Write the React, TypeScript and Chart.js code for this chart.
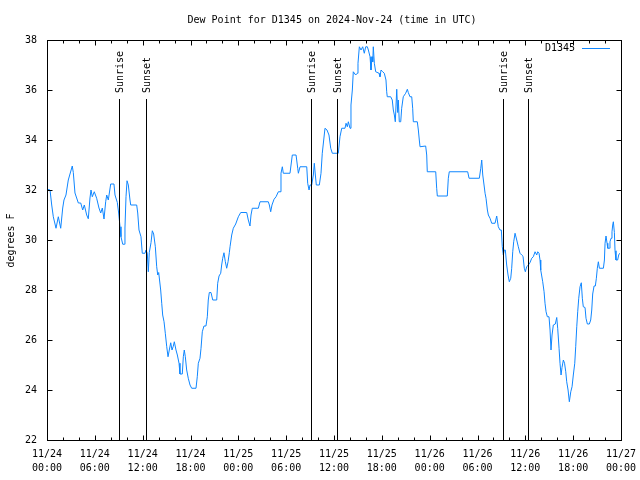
import React, { useEffect, useRef } from 'react';
import { Chart, registerables } from 'chart.js';

Chart.register(...registerables);

const TITLE = 'Dew Point for D1345 on 2024-Nov-24 (time in UTC)';
const SERIES_NAME = 'D1345';
const Y_LABEL = 'degrees F';

// hours since 2024-11-24 00:00 UTC
const hours = [
  0, 0.38, 0.59, 0.79, 1.13, 1.42, 1.72, 1.97, 2.13, 2.38, 2.67, 3.17, 3.3, 3.51, 3.93, 4.23, 4.48, 4.68, 4.98, 5.18,
  5.39, 5.52, 5.68, 5.93, 6.23, 6.52, 6.74, 6.94, 7.15, 7.36, 7.49, 7.69, 7.99, 8.4, 8.53, 8.82, 8.99, 9.16, 9.28, 9.5,
  9.7, 9.78, 9.91, 10.04, 10.2, 10.41, 10.5, 11.25, 11.38, 11.54, 11.79, 11.95, 12.29, 12.42, 12.58, 12.71, 12.83, 13.05, 13.21, 13.38,
  13.59, 13.76, 13.89, 14.01, 14.26, 14.39, 14.51, 14.68, 14.84, 15.02, 15.18, 15.34, 15.52, 15.68, 15.84, 15.97, 16.18, 16.35, 16.56, 16.68,
  16.97, 17.1, 17.22, 17.35, 17.52, 17.72, 17.94, 18.15, 18.69, 18.85, 18.98, 19.19, 19.32, 19.48, 19.69, 19.94, 20.11, 20.23, 20.36, 20.57,
  20.79, 21.29, 21.41, 21.58, 21.79, 21.91, 22.04, 22.2, 22.37, 22.54, 22.71, 22.87, 22.96, 23.17, 23.37, 23.67, 24.0, 24.3, 25.05, 25.25,
  25.46, 25.59, 25.75, 26.51, 26.72, 27.76, 27.89, 28.06, 28.22, 28.48, 28.73, 29.02, 29.23, 29.35, 29.52, 29.64, 30.48, 30.77, 31.24, 31.45,
  31.53, 31.74, 32.58, 32.7, 32.87, 32.99, 33.2, 33.41, 33.53, 33.66, 33.78, 34.16, 34.37, 34.53, 34.71, 34.87, 35.12, 35.37, 35.59, 35.79,
  36.54, 36.75, 36.97, 37.38, 37.51, 37.67, 37.8, 38.01, 38.13, 38.3, 38.42, 38.72, 38.92, 39.01, 39.18, 39.39, 39.6, 39.8, 39.98, 40.18,
  40.31, 40.52, 40.64, 40.77, 40.86, 40.93, 41.06, 41.23, 41.65, 41.77, 41.9, 42.11, 42.31, 42.52, 42.61, 42.68, 43.11, 43.31, 43.44, 43.57,
  43.69, 43.87, 43.99, 44.07, 44.19, 44.37, 44.49, 44.69, 44.99, 45.2, 45.32, 45.53, 45.75, 45.87, 45.95, 46.45, 46.58, 46.7, 46.79, 47.5,
  47.63, 47.7, 48.76, 48.88, 48.96, 50.21, 50.34, 50.46, 52.77, 52.94, 54.23, 54.41, 54.53, 54.66, 54.82, 54.95, 55.07, 55.24, 55.36, 55.57,
  55.78, 56.2, 56.41, 56.61, 56.82, 56.99, 57.11, 57.24, 57.36, 57.49, 57.66, 57.83, 57.99, 58.17, 58.29, 58.42, 58.54, 58.71, 58.92, 59.12,
  59.33, 59.55, 59.71, 59.87, 60.0, 60.17, 60.38, 60.59, 60.8, 61.0, 61.22, 61.43, 61.55, 61.72, 61.84, 61.93, 62.18, 62.35, 62.47, 62.6,
  62.76, 62.97, 63.1, 63.22, 63.35, 63.51, 63.76, 63.94, 64.06, 64.23, 64.35, 64.48, 64.6, 64.77, 64.92, 65.07, 65.19, 65.36, 65.52, 65.7,
  65.86, 66.02, 66.2, 66.32, 66.45, 66.57, 66.7, 66.86, 67.02, 67.15, 67.27, 67.49, 67.61, 67.78, 68.03, 68.2, 68.33, 68.45, 68.62, 68.78,
  68.91, 69.03, 69.16, 69.29, 69.79, 69.92, 70.0, 70.12, 70.25, 70.34, 70.54, 70.62, 70.75, 70.87, 70.96, 71.04, 71.17, 71.25, 71.37, 71.58,
  71.71, 71.83,
];

const dewPoint = [
  32.03, 32.0, 31.4, 30.93, 30.47, 30.93, 30.47, 31.28, 31.6, 31.8, 32.4, 32.96, 32.7, 31.88, 31.48, 31.48, 31.2, 31.4, 31.0, 30.85,
  31.68, 32.0, 31.73, 31.93, 31.67, 31.28, 31.08, 31.28, 30.84, 31.53, 31.8, 31.6, 32.24, 32.24, 31.8, 31.5, 31.08, 30.53, 30.13, 29.83,
  29.83, 30.48, 31.73, 32.37, 32.2, 31.6, 31.4, 31.4, 31.08, 30.4, 30.13, 29.47, 29.47, 29.6, 29.47, 28.73, 29.5, 29.9, 30.37, 30.24,
  29.73, 28.93, 28.6, 28.7, 28.0, 27.47, 27.0, 26.73, 26.27, 25.73, 25.33, 25.6, 25.89, 25.6, 25.75, 25.93, 25.6, 25.4, 25.07, 24.64,
  24.64, 25.33, 25.6, 25.33, 24.8, 24.47, 24.2, 24.07, 24.07, 24.53, 25.07, 25.27, 25.67, 26.33, 26.56, 26.56, 26.93, 27.6, 27.9, 27.9,
  27.6, 27.6, 28.27, 28.56, 28.67, 29.0, 29.27, 29.49, 29.13, 28.87, 29.13, 29.49, 29.73, 30.2, 30.47, 30.64, 30.93, 31.1, 31.1, 30.8,
  30.56, 31.0, 31.27, 31.27, 31.53, 31.53, 31.4, 31.13, 31.4, 31.63, 31.73, 31.93, 31.93, 32.67, 32.93, 32.67, 32.67, 33.4, 33.4, 32.87,
  32.67, 32.93, 32.93, 32.27, 32.0, 32.2, 32.2, 32.6, 33.07, 32.6, 32.2, 32.2, 32.67, 33.47, 34.0, 34.47, 34.4, 34.2, 33.67, 33.47,
  33.47, 34.13, 34.47, 34.47, 34.67, 34.53, 34.73, 34.47, 35.4, 36.0, 36.73, 36.6, 36.67, 37.07, 37.73, 37.6, 37.73, 37.47, 37.73, 37.73,
  37.6, 37.33, 36.8, 37.33, 37.13, 37.73, 37.07, 36.73, 36.67, 36.53, 36.8, 36.73, 36.67, 36.4, 35.93, 35.73, 35.73, 35.6, 35.2, 35.0,
  34.73, 36.03, 35.1, 35.6, 34.73, 34.73, 35.27, 35.73, 35.87, 36.03, 35.9, 35.73, 35.73, 35.27, 34.73, 34.73, 34.4, 34.0, 33.73, 33.76,
  33.4, 32.73, 32.73, 32.07, 31.76, 31.76, 32.47, 32.73, 32.73, 32.47, 32.47, 32.87, 33.2, 32.6, 32.2, 31.87, 31.67, 31.2, 31.0, 30.87,
  30.67, 30.67, 30.96, 30.53, 30.4, 30.4, 29.73, 29.4, 29.6, 29.6, 29.0, 28.6, 28.33, 28.47, 28.87, 29.53, 29.93, 30.27, 30.0, 29.73,
  29.47, 29.4, 29.35, 28.87, 28.73, 28.93, 29.0, 29.1, 29.27, 29.33, 29.53, 29.4, 29.53, 29.47, 29.2, 28.8, 28.33, 27.93, 27.47, 27.13,
  26.93, 26.93, 26.4, 25.6, 26.2, 26.6, 26.64, 26.9, 26.47, 25.67, 25.07, 24.6, 24.9, 25.2, 25.07, 24.73, 24.33, 24.0, 23.53, 23.93,
  24.13, 24.6, 25.07, 25.73, 26.53, 27.13, 27.67, 28.13, 28.29, 27.67, 27.33, 27.3, 26.87, 26.64, 26.64, 26.8, 27.2, 27.84, 28.16, 28.16,
  28.47, 28.87, 29.13, 28.87, 28.87, 29.2, 29.87, 30.16, 29.87, 29.67, 29.67, 29.93, 30.07, 30.33, 30.6, 30.73, 30.3, 29.57, 29.2, 29.2,
  29.4, 29.47,
];

const sunriseHours = [9.07, 33.12, 57.2];
const sunsetHours = [12.42, 36.38, 60.34];

const xTickValues = [0, 6, 12, 18, 24, 30, 36, 42, 48, 54, 60, 66, 72];
const xTickDates = ['11/24', '11/24', '11/24', '11/24', '11/25', '11/25', '11/25', '11/25', '11/26', '11/26', '11/26', '11/26', '11/27'];
const xTickTimes = ['00:00', '06:00', '12:00', '18:00', '00:00', '06:00', '12:00', '18:00', '00:00', '06:00', '12:00', '18:00', '00:00'];
const xMinorStep = 2;
const yTickValues = [22, 24, 26, 28, 30, 32, 34, 36, 38];

const LINE_COLOR = '#0f86ff';
const FONT = '"DejaVu Sans Mono", monospace';

const decorPlugin = {
  id: 'gnuplotDecor',
  afterDraw(chart: any) {
    const { ctx, chartArea } = chart;
    const xs = chart.scales.x;
    const ys = chart.scales.y;
    const L = Math.round(chartArea.left) + 0.5;
    const R = Math.round(chartArea.right) + 0.5;
    const T = Math.round(chartArea.top) + 0.5;
    const B = Math.round(chartArea.bottom) + 0.5;
    ctx.save();
    ctx.strokeStyle = '#000';
    ctx.lineWidth = 1;

    // ticks (inward, mirrored)
    ctx.beginPath();
    for (let h = xs.min; h <= xs.max + 1e-9; h += xMinorStep) {
      const major = xTickValues.includes(h);
      const len = major ? 5 : 3;
      const px = Math.round(xs.getPixelForValue(h)) + 0.5;
      ctx.moveTo(px, B);
      ctx.lineTo(px, B - len);
      ctx.moveTo(px, T);
      ctx.lineTo(px, T + len);
    }
    for (const v of yTickValues) {
      const py = Math.round(ys.getPixelForValue(v)) + 0.5;
      ctx.moveTo(L, py);
      ctx.lineTo(L + 5, py);
      ctx.moveTo(R, py);
      ctx.lineTo(R - 5, py);
    }
    ctx.stroke();

    // sunrise / sunset markers
    const topVal = ys.min + (ys.max - ys.min) * 0.8525;
    const yTopPx = ys.getPixelForValue(topVal);
    const drawSun = (h: number, label: string) => {
      const px = Math.round(xs.getPixelForValue(h)) + 0.5;
      ctx.beginPath();
      ctx.moveTo(px, B);
      ctx.lineTo(px, yTopPx);
      ctx.stroke();
      ctx.save();
      ctx.translate(px + 1, yTopPx - 6);
      ctx.rotate(-Math.PI / 2);
      ctx.fillStyle = '#000';
      ctx.font = '10px ' + FONT;
      ctx.textAlign = 'left';
      ctx.textBaseline = 'middle';
      ctx.fillText(label, 0, 0);
      ctx.restore();
    };
    sunriseHours.forEach((h) => drawSun(h, 'Sunrise'));
    sunsetHours.forEach((h) => drawSun(h, 'Sunset'));

    // frame
    ctx.strokeRect(L, T, R - L, B - T);

    // title
    ctx.fillStyle = '#000';
    ctx.font = '10px ' + FONT;
    ctx.textAlign = 'center';
    ctx.textBaseline = 'middle';
    ctx.fillText(TITLE, 332, 20);

    // y label
    ctx.save();
    ctx.translate(11, (T + B) / 2);
    ctx.rotate(-Math.PI / 2);
    ctx.textAlign = 'center';
    ctx.textBaseline = 'middle';
    ctx.fillText(Y_LABEL, 0, 0);
    ctx.restore();

    // legend
    ctx.textAlign = 'right';
    ctx.textBaseline = 'middle';
    ctx.fillText(SERIES_NAME, 575, 48);
    ctx.strokeStyle = LINE_COLOR;
    ctx.beginPath();
    ctx.moveTo(582, 48.5);
    ctx.lineTo(610, 48.5);
    ctx.stroke();

    ctx.restore();
  },
};

export default function App() {
  const ref = useRef<HTMLCanvasElement | null>(null);
  useEffect(() => {
    if (!ref.current) return;
    const chart = new Chart(ref.current, {
      type: 'line',
      data: {
        datasets: [
          {
            label: SERIES_NAME,
            data: hours.map((h, i) => ({ x: h, y: dewPoint[i] })),
            borderColor: LINE_COLOR,
            borderWidth: 1,
            pointRadius: 0,
            tension: 0,
            fill: false,
          },
        ],
      },
      options: {
        responsive: false,
        animation: false,
        devicePixelRatio: 1,
        layout: { padding: { top: 40, right: 19, left: 0, bottom: 0 } },
        plugins: { legend: { display: false }, title: { display: false }, tooltip: { enabled: false } },
        scales: {
          x: {
            type: 'linear',
            min: 0,
            max: 72,
            grid: { display: false, drawTicks: false },
            border: { display: false },
            afterBuildTicks: (s: any) => {
              s.ticks = xTickValues.map((v) => ({ value: v }));
            },
            afterFit: (s: any) => {
              s.height = 40;
              s.paddingLeft = 0;
              s.paddingRight = 0;
            },
            ticks: {
              autoSkip: false,
              maxRotation: 0,
              padding: 7,
              color: '#000',
              font: { family: FONT, size: 10, lineHeight: 1.4 },
              callback: (v: any) => {
                const i = xTickValues.indexOf(Number(v));
                return i >= 0 ? [xTickDates[i], xTickTimes[i]] : '';
              },
            },
          },
          y: {
            min: 22,
            max: 38,
            grid: { display: false, drawTicks: false },
            border: { display: false },
            afterBuildTicks: (s: any) => {
              s.ticks = yTickValues.map((v) => ({ value: v }));
            },
            afterFit: (s: any) => {
              s.width = 47;
              s.paddingTop = 0;
              s.paddingBottom = 0;
            },
            ticks: {
              padding: 10,
              color: '#000',
              font: { family: FONT, size: 10 },
            },
          },
        },
      },
      plugins: [decorPlugin],
    } as any);
    return () => chart.destroy();
  }, []);
  return (
    <div style={{ position: 'absolute', left: 0, top: 0, width: 640, height: 480, background: '#fff' }}>
      <canvas ref={ref} width={640} height={480} style={{ width: 640, height: 480, display: 'block' }} />
    </div>
  );
}
